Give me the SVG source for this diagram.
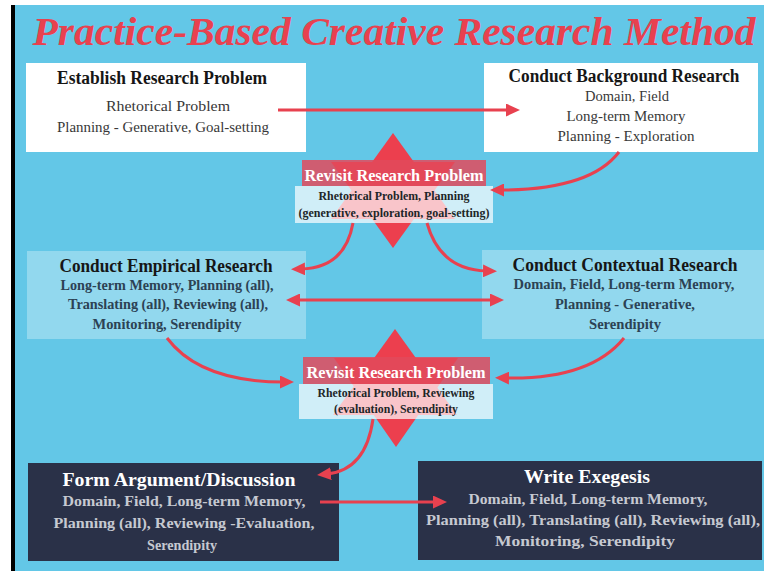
<svg xmlns="http://www.w3.org/2000/svg" width="764" height="571" viewBox="0 0 764 571">
  <defs>
    <style>
      text { font-family: "Liberation Serif", "DejaVu Serif", serif; text-anchor: middle; }
      .title { font-size: 41px; font-weight: bold; font-style: italic; fill: #e8414f; }
      .hd { font-size: 18px; font-weight: bold; fill: #161616; }
      .bd { font-size: 15px; fill: #383838; }
      .mid-bd { font-size: 14.5px; font-weight: bold; fill: #2c4254; }
      .rv-hd { font-size: 16.5px; font-weight: bold; fill: #ffffff; }
      .rv-bd { font-size: 12.5px; font-weight: bold; fill: #1d2628; }
      .dk-hd { font-size: 18.5px; font-weight: bold; fill: #ffffff; }
      .dk-bd { font-size: 15px; font-weight: bold; fill: #c6c9d1; }
      .white-box { fill: #ffffff; }
      .pale-box { fill: #ffffff; fill-opacity: 0.3; }
      .dark-box { fill: #2a3148; }
      .rv-top { fill: #e24a5c; fill-opacity: 0.85; }
      .rv-low { fill: #ffffff; fill-opacity: 0.7; }
      .star { fill: #ec3f4e; }
      .link { fill: none; stroke: #e8414f; stroke-width: 3; }
    </style>
    <marker id="head" viewBox="0 0 14 13" markerWidth="14" markerHeight="13" refX="4" refY="6.5" orient="auto-start-reverse" markerUnits="userSpaceOnUse">
      <path d="M0,0 L14,6.5 L0,13 z" fill="#e8414f"/>
    </marker>
  </defs>

  <!-- page frame -->
  <rect width="764" height="571" fill="#ffffff"/>
  <rect x="15" y="5" width="749" height="566" fill="#63c7e7"/>
  <rect x="11" y="5" width="4" height="566" fill="#000000"/>

  <text class="title" x="394" y="45" textLength="723" lengthAdjust="spacingAndGlyphs">Practice-Based Creative Research Method</text>

  <g id="establish">
    <rect class="white-box" x="26" y="63" width="280" height="89"/>
    <text class="hd" x="162" y="84" textLength="210" lengthAdjust="spacingAndGlyphs">Establish Research Problem</text>
    <text class="bd" x="168" y="111" textLength="124" lengthAdjust="spacingAndGlyphs">Rhetorical Problem</text>
    <text class="bd" x="163" y="132" textLength="212" lengthAdjust="spacingAndGlyphs">Planning - Generative, Goal-setting</text>
  </g>

  <g id="background">
    <rect class="white-box" x="484" y="63" width="274" height="89"/>
    <text class="hd" x="624" y="82" textLength="231" lengthAdjust="spacingAndGlyphs">Conduct Background Research</text>
    <text class="bd" x="627" y="101" textLength="84" lengthAdjust="spacingAndGlyphs">Domain, Field</text>
    <text class="bd" x="626" y="121" textLength="119" lengthAdjust="spacingAndGlyphs">Long-term Memory</text>
    <text class="bd" x="626" y="141" textLength="137" lengthAdjust="spacingAndGlyphs">Planning - Exploration</text>
  </g>

  <g id="revisit-1">
    <polygon class="star" points="393,133 455,219 331,219"/>
    <polygon class="star" points="393,248 331,162 455,162"/>
    <rect class="rv-top" x="302" y="160" width="184" height="26"/>
    <rect class="rv-low" x="295" y="186" width="198" height="37"/>
    <text class="rv-hd" x="394" y="181" textLength="179" lengthAdjust="spacingAndGlyphs">Revisit Research Problem</text>
    <text class="rv-bd" x="394" y="200" textLength="151" lengthAdjust="spacingAndGlyphs">Rhetorical Problem, Planning</text>
    <text class="rv-bd" x="394" y="217" textLength="191" lengthAdjust="spacingAndGlyphs">(generative, exploration, goal-setting)</text>
  </g>

  <g id="empirical">
    <rect class="pale-box" x="27" y="251" width="279" height="88"/>
    <text class="hd" x="166" y="272" textLength="213" lengthAdjust="spacingAndGlyphs">Conduct Empirical Research</text>
    <text class="mid-bd" x="167" y="290" textLength="213" lengthAdjust="spacingAndGlyphs">Long-term Memory, Planning (all),</text>
    <text class="mid-bd" x="168" y="309" textLength="200" lengthAdjust="spacingAndGlyphs">Translating (all), Reviewing (all),</text>
    <text class="mid-bd" x="167" y="329" textLength="149" lengthAdjust="spacingAndGlyphs">Monitoring, Serendipity</text>
  </g>

  <g id="contextual">
    <rect class="pale-box" x="482" y="250" width="282" height="89"/>
    <text class="hd" x="625" y="271" textLength="225" lengthAdjust="spacingAndGlyphs">Conduct Contextual Research</text>
    <text class="mid-bd" x="624" y="289" textLength="221" lengthAdjust="spacingAndGlyphs">Domain, Field, Long-term Memory,</text>
    <text class="mid-bd" x="625" y="309" textLength="140" lengthAdjust="spacingAndGlyphs">Planning - Generative,</text>
    <text class="mid-bd" x="625" y="329" textLength="72" lengthAdjust="spacingAndGlyphs">Serendipity</text>
  </g>

  <g id="revisit-2">
    <polygon class="star" points="395,329 457,415 333,415"/>
    <polygon class="star" points="396,447 334,358 458,358"/>
    <rect class="rv-top" x="303" y="357" width="187" height="27"/>
    <rect class="rv-low" x="299" y="384" width="194" height="35"/>
    <text class="rv-hd" x="396" y="378" textLength="179" lengthAdjust="spacingAndGlyphs">Revisit Research Problem</text>
    <text class="rv-bd" x="396" y="397" textLength="157" lengthAdjust="spacingAndGlyphs">Rhetorical Problem, Reviewing</text>
    <text class="rv-bd" x="396" y="413" textLength="124" lengthAdjust="spacingAndGlyphs">(evaluation), Serendipity</text>
  </g>

  <g id="argument">
    <rect class="dark-box" x="28" y="463" width="311" height="98"/>
    <text class="dk-hd" x="179" y="486" textLength="233" lengthAdjust="spacingAndGlyphs">Form Argument/Discussion</text>
    <text class="dk-bd" x="184" y="506" textLength="243" lengthAdjust="spacingAndGlyphs">Domain, Field, Long-term Memory,</text>
    <text class="dk-bd" x="184" y="528" textLength="261" lengthAdjust="spacingAndGlyphs">Planning (all), Reviewing -Evaluation,</text>
    <text class="dk-bd" x="182" y="550" textLength="70" lengthAdjust="spacingAndGlyphs">Serendipity</text>
  </g>

  <g id="exegesis">
    <rect class="dark-box" x="418" y="461" width="344" height="99"/>
    <text class="dk-hd" x="587" y="483" font-size="20" textLength="126" lengthAdjust="spacingAndGlyphs">Write Exegesis</text>
    <text class="dk-bd" x="588" y="504" font-size="16" textLength="239" lengthAdjust="spacingAndGlyphs">Domain, Field, Long-term Memory,</text>
    <text class="dk-bd" x="593" y="525" font-size="16" textLength="334" lengthAdjust="spacingAndGlyphs">Planning (all), Translating (all), Reviewing (all),</text>
    <text class="dk-bd" x="585" y="546" font-size="16" textLength="180" lengthAdjust="spacingAndGlyphs">Monitoring, Serendipity</text>
  </g>

  <g id="connectors">
    <path class="link" d="M278,110 L510,110" marker-end="url(#head)"/>
    <path class="link" d="M619,152 Q590,190 500,190" marker-end="url(#head)"/>
    <path class="link" d="M353,223 Q345,268 301,269" marker-end="url(#head)"/>
    <path class="link" d="M427,223 Q440,270 487,271" marker-end="url(#head)"/>
    <path class="link" d="M296,300 L494,300" marker-start="url(#head)" marker-end="url(#head)"/>
    <path class="link" d="M167,338 Q200,382 284,382" marker-end="url(#head)"/>
    <path class="link" d="M624,338 Q590,380 505,378" marker-end="url(#head)"/>
    <path class="link" d="M373,419 Q366,470 327,474" marker-end="url(#head)"/>
    <path class="link" d="M320,502 L437,502" marker-end="url(#head)"/>
  </g>
</svg>
